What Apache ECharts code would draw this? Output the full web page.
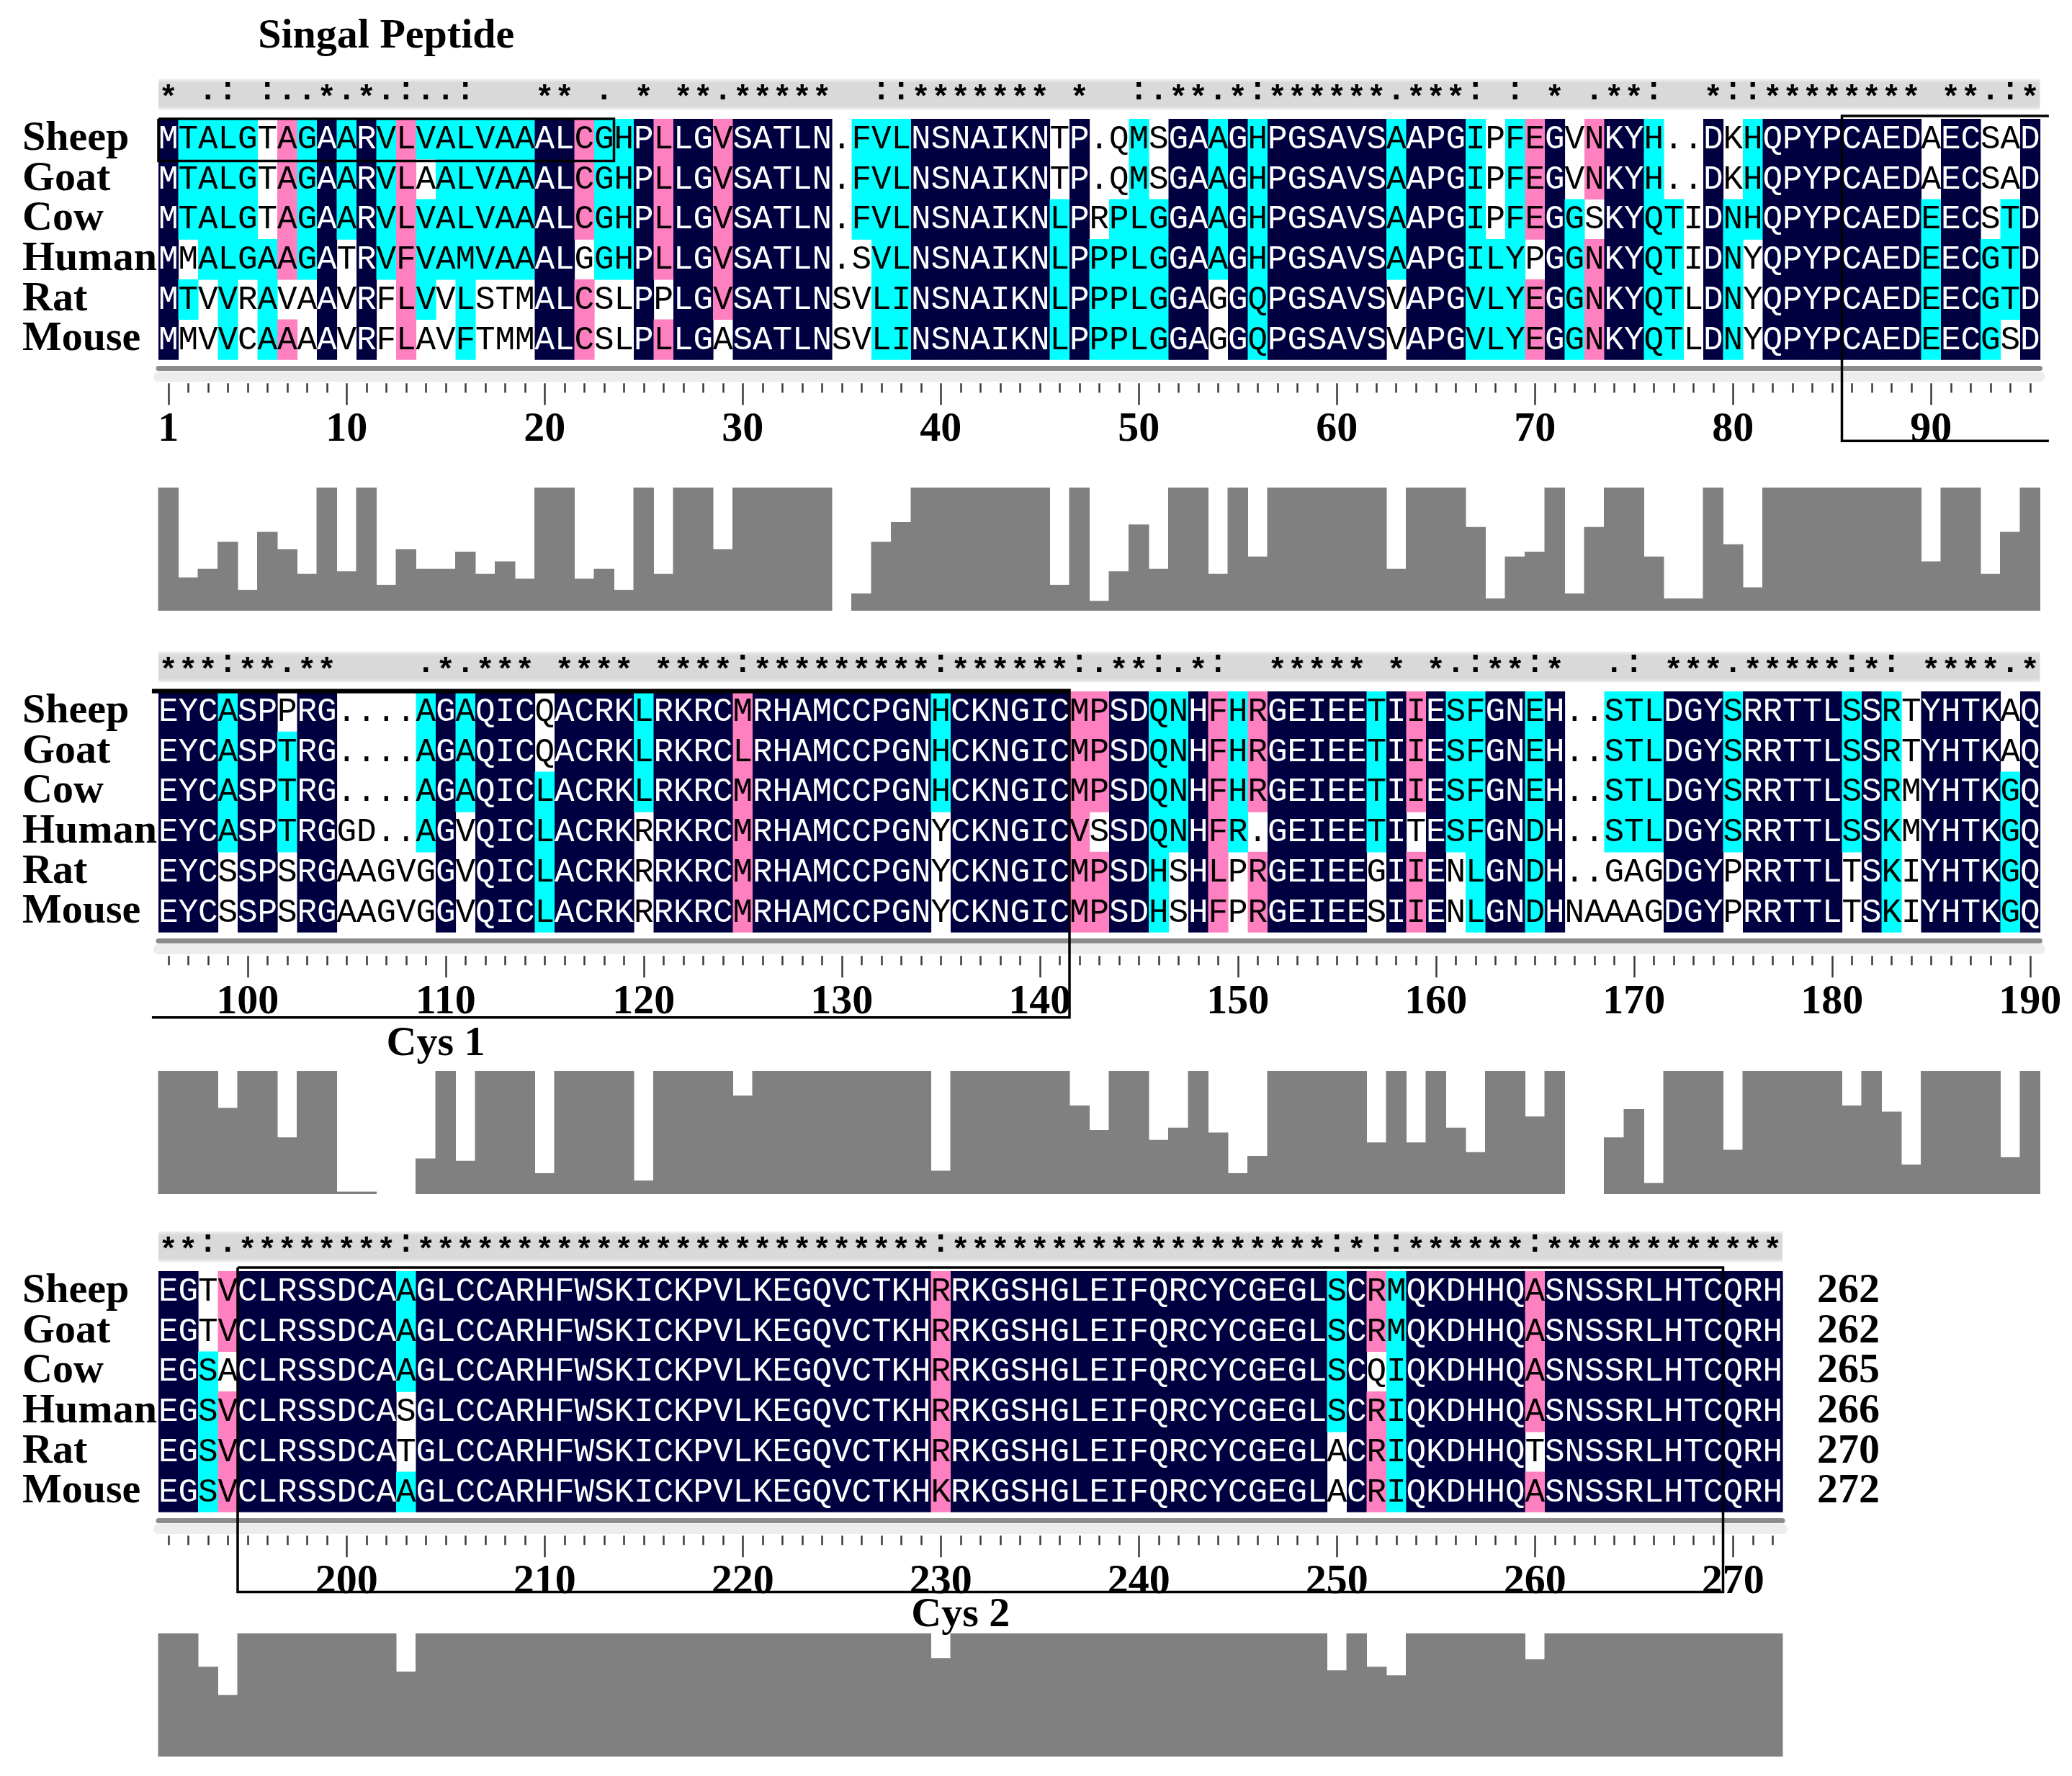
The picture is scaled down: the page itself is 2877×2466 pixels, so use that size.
<!DOCTYPE html>
<html><head><meta charset="utf-8">
<script src="https://cdn.jsdelivr.net/npm/echarts/dist/echarts.min.js"></script>
<style>html,body{margin:0;padding:0;background:#fff}#c{width:2877px;height:2466px}</style>
</head><body><div id="c"></div><script>
// ---------------- data ----------------
const species = ['Sheep','Goat','Cow','Human','Rat','Mouse'];
const endNumbers = ['262','262','265','266','270','272'];
const blockStarts = [1, 96, 191];

const block1 = [
 ['MTALGTAGAA','RVLVALVAAA','LCGHPLLGVS','ATLN.FVLNS','NAIKNTP.QM','SGAAGHPGSA','VSAAPGIPFE','GVNKYH..DK','HQPYPCAEDA','ECSAD'].join(''),
 ['MTALGTAGAA','RVLAALVAAA','LCGHPLLGVS','ATLN.FVLNS','NAIKNTP.QM','SGAAGHPGSA','VSAAPGIPFE','GVNKYH..DK','HQPYPCAEDA','ECSAD'].join(''),
 ['MTALGTAGAA','RVLVALVAAA','LCGHPLLGVS','ATLN.FVLNS','NAIKNLPRPL','GGAAGHPGSA','VSAAPGIPFE','GGSKYQTIDN','HQPYPCAEDE','ECSTD'].join(''),
 ['MMALGAAGAT','RVFVAMVAAA','LGGHPLLGVS','ATLN.SVLNS','NAIKNLPPPL','GGAAGHPGSA','VSAAPGILYP','GGNKYQTIDN','YQPYPCAEDE','ECGTD'].join(''),
 ['MTVVRAVAAV','RFLVVLSTMA','LCSLPPLGVS','ATLNSVLINS','NAIKNLPPPL','GGAGGQPGSA','VSVAPGVLYE','GGNKYQTLDN','YQPYPCAEDE','ECGTD'].join(''),
 ['MMVVCAAAAV','RFLAVFTMMA','LCSLPLLGAS','ATLNSVLINS','NAIKNLPPPL','GGAGGQPGSA','VSVAPGVLYE','GGNKYQTLDN','YQPYPCAEDE','ECGSD'].join('')
];
const block2 = [
 ['EYCASPPRG.','...AGAQICQ','ACRKLRKRCM','RHAMCCPGNH','CKNGICMPSD','QNHFHRGEIE','ETIIESFGNE','H..STLDGYS','RRTTLSSRTY','HTKAQ'].join(''),
 ['EYCASPTRG.','...AGAQICQ','ACRKLRKRCL','RHAMCCPGNH','CKNGICMPSD','QNHFHRGEIE','ETIIESFGNE','H..STLDGYS','RRTTLSSRTY','HTKAQ'].join(''),
 ['EYCASPTRG.','...AGAQICL','ACRKLRKRCM','RHAMCCPGNH','CKNGICMPSD','QNHFHRGEIE','ETIIESFGNE','H..STLDGYS','RRTTLSSRMY','HTKGQ'].join(''),
 ['EYCASPTRGG','D..AGVQICL','ACRKRRKRCM','RHAMCCPGNY','CKNGICVSSD','QNHFR.GEIE','ETITESFGND','H..STLDGYS','RRTTLSSKMY','HTKGQ'].join(''),
 ['EYCSSPSRGA','AGVGGVQICL','ACRKRRKRCM','RHAMCCPGNY','CKNGICMPSD','HSHLPRGEIE','EGIIENLGND','H..GAGDGYP','RRTTLTSKIY','HTKGQ'].join(''),
 ['EYCSSPSRGA','AGVGGVQICL','ACRKRRKRCM','RHAMCCPGNY','CKNGICMPSD','HSHFPRGEIE','ESIIENLGND','HNAAAGDGYP','RRTTLTSKIY','HTKGQ'].join('')
];
const block3 = [
 ['EGTVCLRSSD','CAAGLCCARH','FWSKICKPVL','KEGQVCTKHR','RKGSHGLEIF','QRCYCGEGLS','CRMQKDHHQA','SNSSRLHTCQ','RH'].join(''),
 ['EGTVCLRSSD','CAAGLCCARH','FWSKICKPVL','KEGQVCTKHR','RKGSHGLEIF','QRCYCGEGLS','CRMQKDHHQA','SNSSRLHTCQ','RH'].join(''),
 ['EGSACLRSSD','CAAGLCCARH','FWSKICKPVL','KEGQVCTKHR','RKGSHGLEIF','QRCYCGEGLS','CQIQKDHHQA','SNSSRLHTCQ','RH'].join(''),
 ['EGSVCLRSSD','CASGLCCARH','FWSKICKPVL','KEGQVCTKHR','RKGSHGLEIF','QRCYCGEGLS','CRIQKDHHQA','SNSSRLHTCQ','RH'].join(''),
 ['EGSVCLRSSD','CATGLCCARH','FWSKICKPVL','KEGQVCTKHR','RKGSHGLEIF','QRCYCGEGLA','CRIQKDHHQT','SNSSRLHTCQ','RH'].join(''),
 ['EGSVCLRSSD','CAAGLCCARH','FWSKICKPVL','KEGQVCTKHK','RKGSHGLEIF','QRCYCGEGLA','CRIQKDHHQA','SNSSRLHTCQ','RH'].join('')
];

// conservation bar heights (percent of full height)
const bars1 = [
 100,27,34,56,17,64,50,30,100,32,
 100,21,50,34,34,48,30,40,26,100,
 100,26,34,17,100,30,100,100,50,100,
 100,100,100,100,0,14,56,72,100,100,
 100,100,100,100,100,21,100,8,32,70,
 34,100,100,30,100,44,100,100,100,100,
 100,100,34,100,100,100,68,10,44,48,
 100,14,68,100,100,44,10,10,100,54,
 19,100,100,100,100,100,100,100,100,40,
 100,100,30,64,100];
const bars2 = [
 100,100,100,70,100,100,46,100,100,2,
 2,0,0,29,100,27,100,100,100,17,
 100,100,100,100,11,100,100,100,100,80,
 100,100,100,100,100,100,100,100,100,19,
 100,100,100,100,100,100,72,52,100,100,
 44,54,100,50,17,31,100,100,100,100,
 100,42,100,42,100,54,34,100,100,63,
 100,0,0,46,69,9,100,100,100,36,
 100,100,100,100,100,72,100,67,24,100,
 100,100,100,30,100];
const bars3 = [
 100,100,73,50,100,100,100,100,100,100,
 100,100,69,100,100,100,100,100,100,100,
 100,100,100,100,100,100,100,100,100,100,
 100,100,100,100,100,100,100,100,100,80,
 100,100,100,100,100,100,100,100,100,100,
 100,100,100,100,100,100,100,100,100,70,
 100,73,66,100,100,100,100,100,100,79,
 100,100,100,100,100,100,100,100,100,100,
 100,100];

// residue pairs treated as similar when shading (PAM250 score >= 2)
const similarPairs = ['RH','RK','RW','ND','NH','DQ','DE','QE','QH','IL','IM','IV','LM','LF','LV','MV','FY'];
// Clustal-style groups for the consensus symbols
const strongGroups = ['STA','NEQK','NHQK','NDEQ','QHRK','MILV','MILF','HY','FYW'];
const weakGroups = ['CSA','ATV','SAG','STNK','STPA','SGND','SNDEQK','NDEQHK','NEQHRK','FVLIM','HFY'];

// annotation boxes / labels in (column, row) units of each block
const boxes = [
 {block:0, pts:[[0.5,0],[23.5,0],[23.5,1.05],[0.5,1.05],[0.5,0]]},
 {block:0, pts:[[95.95,-0.07],[85.5,-0.07],[85.5,8.03],[95.95,8.03]]},
 {block:1, pts:[[95.17,-0.03],[141.5,-0.03],[141.5,8.13],[95.17,8.13]], top:true},
 {block:2, pts:[[194.5,-0.09],[269.5,-0.09],[269.5,8.0],[194.5,8.0],[194.5,-0.09]]}
];
const notes = [
 {block:0, text:'Singal Peptide', at:[12,-2.05]},
 {block:1, text:'Cys 1', at:[109.5,8.8]},
 {block:2, text:'Cys 2', at:[231,8.58]}
];

// ---------------- layout / style ----------------
const CW = 27.5, X0 = 220, RH = 55.7;
const SEQ_TOPS = [165, 960, 1765];
const BAR_TOPS = [677, 1487, 2268];
const BAR_H = 171;
const FILLS = ['#000040', '#ff80c0', '#00ffff'];
const SERIF = 'Liberation Serif';

const blocks = [block1, block2, block3];
const barsAll = [bars1, bars2, bars3];
const SIM = new Set(similarPairs.flatMap(p => [p, p[1] + p[0]]));

function consSymbol(res) {
  if (res.some(r => r === '.')) return '';
  const set = [...new Set(res)];
  if (set.length === 1) return '*';
  if (strongGroups.some(g => set.every(r => g.includes(r)))) return ':';
  if (weakGroups.some(g => set.every(r => g.includes(r)))) return '.';
  return '';
}
function colLevels(res) {
  const counts = {};
  res.forEach(r => { if (r !== '.') counts[r] = (counts[r] || 0) + 1; });
  let best = null, bc = 0;
  Object.keys(counts).sort().forEach(k => { if (counts[k] > bc) { bc = counts[k]; best = k; } });
  const level = bc === res.length ? 0 : bc === res.length - 1 ? 1 : bc >= 3 ? 2 : -1;
  return res.map(r => (level >= 0 && r !== '.' && (r === best || SIM.has(r + best))) ? level : -1);
}

const grid = [], xAxis = [], yAxis = [], series = [];
const isMajor = (i, v) => { const c = +v; return c === 1 || c % 10 === 0; };

blocks.forEach((seqs, b) => {
  const start = blockStarts[b], n = seqs[0].length, end = start + n - 1;
  const cols = []; for (let i = 0; i < n; i++) cols.push(String(start + i));

  const gS = grid.length;
  grid.push({left: X0, top: SEQ_TOPS[b] - RH, width: n * CW, height: 7 * RH, containLabel: false, outerBoundsMode: 'none'});
  const gB = grid.length;
  grid.push({left: X0, top: BAR_TOPS[b], width: n * CW, height: BAR_H, containLabel: false, outerBoundsMode: 'none'});

  const xV = xAxis.length;
  xAxis.push({type: 'value', gridIndex: gS, min: start - 0.5, max: end + 0.5, show: false});
  const rb = {type: 'category', gridIndex: gS, data: cols, position: 'bottom',
    axisLabel: {show: false}, axisTick: {show: false}, splitLine: {show: false}};
  xAxis.push(Object.assign({}, rb, {offset: 12.5, axisLine: {show: true, onZero: false, lineStyle: {color: '#8c8c8c', width: 7}}}));
  xAxis.push(Object.assign({}, rb, {offset: 24, axisLine: {show: true, onZero: false, lineStyle: {color: '#ededed', width: 14}}}));
  xAxis.push(Object.assign({}, rb, {offset: 33, axisLine: {show: false, onZero: false},
    axisTick: {show: true, alignWithLabel: true, interval: 0, length: 13, lineStyle: {color: '#3a3a3a', width: 2.5}}}));
  xAxis.push(Object.assign({}, rb, {offset: 33, axisLine: {show: false, onZero: false},
    axisTick: {show: true, alignWithLabel: true, interval: isMajor, length: 30, lineStyle: {color: '#3a3a3a', width: 2.5}},
    axisLabel: {show: true, interval: isMajor, margin: 36, fontFamily: SERIF, fontWeight: 'bold', fontSize: 58, color: '#000'}}));
  const xB = xAxis.length;
  xAxis.push({type: 'category', gridIndex: gB, data: cols, show: false});

  const yV = yAxis.length;
  yAxis.push({type: 'value', gridIndex: gS, min: -1, max: 6, inverse: true, show: false});
  yAxis.push({type: 'category', gridIndex: gS, data: [''].concat(species), inverse: true, position: 'left',
    axisLine: {show: false}, axisTick: {show: false}, splitLine: {show: false},
    axisLabel: {interval: 0, margin: X0 - 31, align: 'left', fontFamily: SERIF, fontWeight: 'bold', fontSize: 58, color: '#000'}});
  if (b === 2) {
    yAxis.push({type: 'category', gridIndex: gS, data: [''].concat(endNumbers), inverse: true, position: 'right',
      axisLine: {show: false}, axisTick: {show: false}, splitLine: {show: false},
      axisLabel: {interval: 0, margin: 48, align: 'left', fontFamily: SERIF, fontWeight: 'bold', fontSize: 58, color: '#000'}});
  }
  const yB = yAxis.length;
  yAxis.push({type: 'value', gridIndex: gB, min: 0, max: 100, show: false});

  // consensus band
  series.push({type: 'custom', xAxisIndex: xV, yAxisIndex: yV, silent: true, clip: false,
    data: [[start - 0.5, end + 0.5]],
    renderItem: (p, api) => {
      const a = api.coord([api.value(0), -0.99]), c = api.coord([api.value(1), -0.23]);
      return {type: 'rect', shape: {x: a[0], y: a[1], width: c[0] - a[0], height: c[1] - a[1]},
        style: {fill: {type: 'linear', x: 0, y: 0, x2: 0, y2: 1, colorStops: [
          {offset: 0, color: '#f0f0f0'}, {offset: 0.12, color: '#d9d9d9'}, {offset: 0.88, color: '#d9d9d9'}, {offset: 1, color: '#efefef'}]}}};
    }});

  // consensus symbols & cells
  const symData = [], syms = [], cellData = [], chars = [], levels = [];
  for (let i = 0; i < n; i++) {
    const res = seqs.map(s => s[i]);
    const sy = consSymbol(res);
    if (sy) { symData.push([start + i, -0.61]); syms.push(sy); }
    const lv = colLevels(res);
    res.forEach((r, k) => { cellData.push([start + i, k]); chars.push(r); levels.push(lv[k]); });
  }
  series.push({type: 'custom', xAxisIndex: xV, yAxisIndex: yV, silent: true, clip: false, data: symData,
    renderItem: (p, api) => {
      const s = syms[p.dataIndex];
      const pt = api.coord([api.value(0), api.value(1)]);
      return {type: 'text', x: pt[0], y: pt[1] + (s === '*' ? 7 : -4),
        style: {text: s, fill: '#000', font: 'bold 44px "Liberation Mono"', align: 'center', verticalAlign: 'middle'}};
    }});
  series.push({type: 'custom', xAxisIndex: xV, yAxisIndex: yV, silent: true, clip: false, data: cellData,
    renderItem: (p, api) => {
      const i = p.dataIndex, c = api.value(0), r = api.value(1);
      const a = api.coord([c - 0.5, r]), z = api.coord([c + 0.5, r + 1]);
      const lv = levels[i];
      const kids = [];
      if (lv >= 0) kids.push({type: 'rect', shape: {x: a[0], y: a[1], width: z[0] - a[0] + 0.6, height: z[1] - a[1] + 0.6}, style: {fill: FILLS[lv]}});
      kids.push({type: 'text', x: (a[0] + z[0]) / 2, y: (a[1] + z[1]) / 2 + 1,
        style: {text: chars[i], fill: lv === 0 ? '#ffffff' : '#000000', font: '46px "Liberation Mono"', align: 'center', verticalAlign: 'middle'}});
      return {type: 'group', children: kids};
    }});

  // bars (drawn edge to edge, no seams)
  series.push({type: 'custom', xAxisIndex: xB, yAxisIndex: yB, silent: true,
    data: barsAll[b].map((v, i) => [i, v]),
    renderItem: (p, api) => {
      const top = api.coord([api.value(0), api.value(1)]);
      const base = api.coord([api.value(0), 0]);
      const w = api.size([1, 0])[0];
      return {type: 'rect', shape: {x: top[0] - w / 2 - 0.5, y: top[1], width: w + 1, height: base[1] - top[1]},
        style: {fill: '#808080'}};
    }});

  // annotations
  const myBoxes = boxes.filter(o => o.block === b), myNotes = notes.filter(o => o.block === b);
  series.push({type: 'custom', xAxisIndex: xV, yAxisIndex: yV, silent: true, clip: false, data: [[start, 0]],
    renderItem: (p, api) => {
      const kids = [];
      myBoxes.forEach(bx => {
        kids.push({type: 'polyline', shape: {points: bx.pts.map(q => api.coord(q))}, style: {stroke: '#000', lineWidth: 3.5, fill: null}});
        if (bx.top) kids.push({type: 'polyline', shape: {points: [api.coord(bx.pts[0]), api.coord(bx.pts[1])].map(q => [q[0], q[1] + 3])}, style: {stroke: '#000', lineWidth: 3, fill: null}});
      });
      myNotes.forEach(t => {
        const q = api.coord(t.at);
        kids.push({type: 'text', x: q[0], y: q[1], style: {text: t.text, fill: '#000', font: 'bold 58px "' + SERIF + '"', align: 'center', verticalAlign: 'middle'}});
      });
      return {type: 'group', children: kids};
    }});
});

const chart = echarts.init(document.getElementById('c'), null, {renderer: 'canvas'});
chart.setOption({animation: false, backgroundColor: '#ffffff', grid, xAxis, yAxis, series});
</script></body></html>
